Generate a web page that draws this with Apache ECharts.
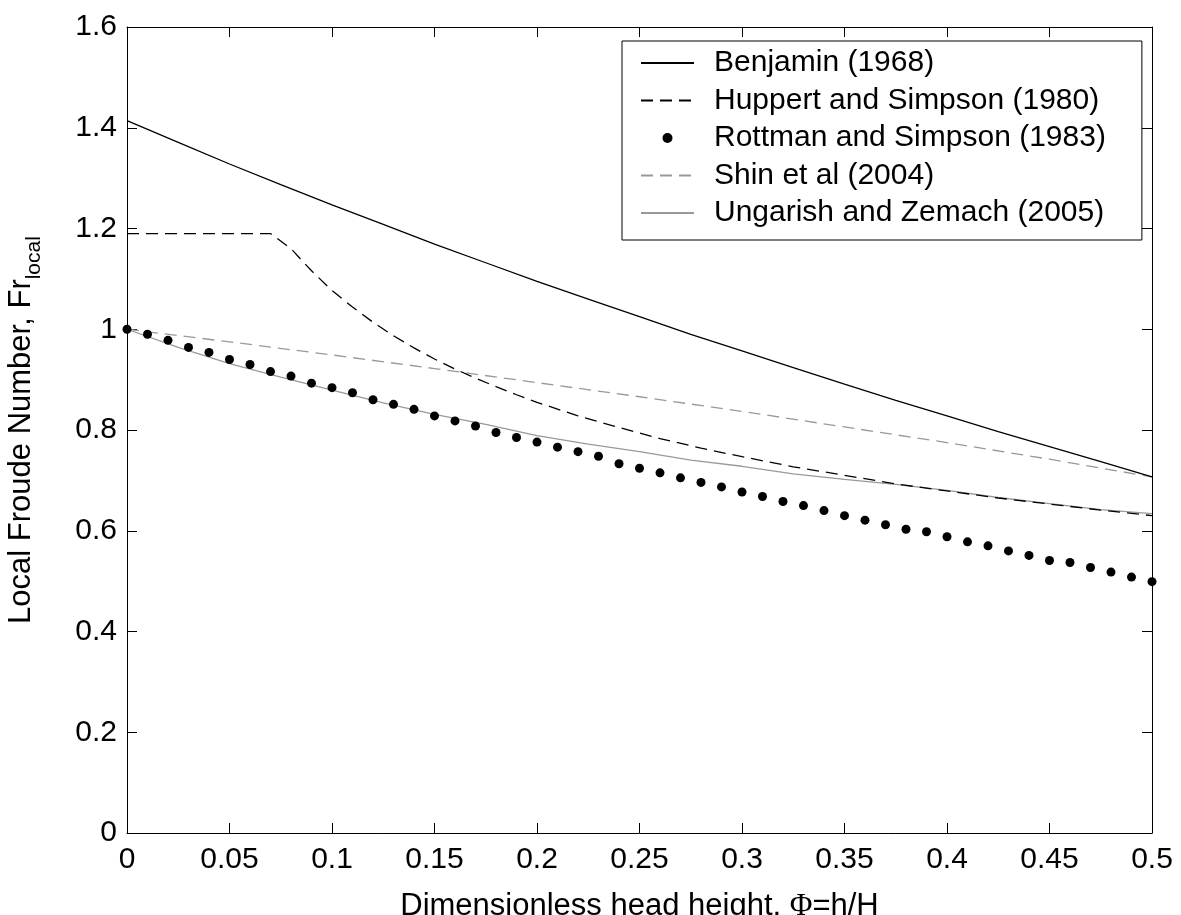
<!DOCTYPE html>
<html>
<head>
<meta charset="utf-8">
<script src="https://cdn.jsdelivr.net/npm/echarts@6/dist/echarts.min.js"></script>
<style>
html,body{margin:0;padding:0;background:#fff;}
#c{width:1181px;height:915px;}
</style>
</head>
<body>
<div id="c"></div>
<script>
// ---- data ----
const seriesNames = [
  'Benjamin (1968)',
  'Huppert and Simpson (1980)',
  'Rottman and Simpson (1983)',
  'Shin et al (2004)',
  'Ungarish and Zemach (2005)'
];
const xTicks = [0, 0.05, 0.1, 0.15, 0.2, 0.25, 0.3, 0.35, 0.4, 0.45, 0.5];
const yTicks = [0, 0.2, 0.4, 0.6, 0.8, 1, 1.2, 1.4, 1.6];

const benjaminX = [0,0.025,0.05,0.075,0.1,0.125,0.15,0.175,0.2,0.225,0.25,0.275,0.3,0.325,0.35,0.375,0.4,0.425,0.45,0.475,0.5];
const benjaminY = [1.414,1.371,1.328,1.287,1.247,1.208,1.169,1.132,1.095,1.060,1.025,0.990,0.957,0.924,0.891,0.859,0.828,0.797,0.767,0.737,0.707];

const huppertX = [0,0.07,0.08,0.09,0.10,0.11,0.12,0.13,0.14,0.15,0.16,0.17,0.18,0.19,0.20,0.22,0.24,0.26,0.28,0.30,0.325,0.35,0.375,0.40,0.425,0.45,0.475,0.50];
const huppertY = [1.19,1.19,1.160,1.116,1.077,1.044,1.014,0.987,0.963,0.941,0.921,0.903,0.886,0.870,0.855,0.828,0.805,0.783,0.764,0.747,0.727,0.710,0.693,0.679,0.665,0.653,0.641,0.630];

const rottmanX = [0,0.01,0.02,0.03,0.04,0.05,0.06,0.07,0.08,0.09,0.10,0.11,0.12,0.13,0.14,0.15,0.16,0.17,0.18,0.19,0.20,0.21,0.22,0.23,0.24,0.25,0.26,0.27,0.28,0.29,0.30,0.31,0.32,0.33,0.34,0.35,0.36,0.37,0.38,0.39,0.40,0.41,0.42,0.43,0.44,0.45,0.46,0.47,0.48,0.49,0.50];
const rottmanY = [1.0,0.99,0.978,0.964,0.954,0.94,0.93,0.916,0.907,0.893,0.884,0.874,0.86,0.851,0.841,0.828,0.818,0.808,0.795,0.785,0.776,0.766,0.757,0.748,0.733,0.724,0.715,0.705,0.696,0.687,0.677,0.668,0.658,0.65,0.64,0.63,0.621,0.612,0.603,0.598,0.588,0.578,0.57,0.56,0.551,0.541,0.537,0.527,0.518,0.508,0.499];

const shinX = [0,0.05,0.1,0.15,0.2,0.25,0.3,0.35,0.4,0.45,0.5];
const shinY = [1.0,0.975,0.949,0.922,0.894,0.866,0.837,0.806,0.775,0.742,0.707];

const ungarishX = [0,0.025,0.05,0.075,0.1,0.125,0.15,0.175,0.2,0.225,0.25,0.275,0.3,0.325,0.35,0.375,0.4,0.425,0.45,0.475,0.5];
const ungarishY = [1.0,0.964,0.932,0.905,0.879,0.854,0.831,0.811,0.789,0.772,0.757,0.740,0.728,0.713,0.702,0.692,0.680,0.666,0.654,0.642,0.634];

// ---- chart ----
const pairs = (xs, ys) => xs.map((x, i) => [x, ys[i]]);
const FONT = 'Liberation Sans, Arial, sans-serif';
const GRAY = '#999999';
const TICK_FS = 30;
const NAME_FS = 31;

const chart = echarts.init(document.getElementById('c'), null, {renderer: 'canvas'});

const axisCommon = {
  type: 'value',
  axisLine: {show: true, onZero: false, lineStyle: {color: '#000', width: 1}},
  axisTick: {show: true, inside: true, length: 10, lineStyle: {color: '#000', width: 1}},
  splitLine: {show: false}
};

const legendData = seriesNames.map((n, i) =>
  i === 2 ? {name: n, icon: 'circle', itemStyle: {opacity: 1, color: '#000'}} : {name: n});

const option = {
  backgroundColor: '#fff',
  animation: false,
  textStyle: {fontFamily: FONT},
  grid: {left: 127, right: 29, top: 27, bottom: 82, containLabel: false, outerBoundsMode: 'none'},
  legend: {
    orient: 'vertical',
    left: 622,
    top: 41,
    data: legendData,
    backgroundColor: '#fff',
    borderColor: '#000',
    borderWidth: 1,
    borderRadius: 0,
    padding: [7, 36, 12, 18],
    itemWidth: 53,
    itemHeight: 10,
    itemGap: 7.5,
    itemStyle: {opacity: 0},
    textStyle: {fontFamily: FONT, fontSize: TICK_FS, color: '#000', lineHeight: 30, padding: [0, 0, 0, 15]}
  },
  xAxis: [
    Object.assign({}, axisCommon, {
      position: 'bottom', min: 0, max: 0.5, interval: 0.05,
      axisLabel: {color: '#000', fontSize: TICK_FS, fontFamily: FONT, margin: 12,
        formatter: v => String(+v.toFixed(2))},
      name: '{a|Dimensionless head height, }{phi|Φ}{a|=h/H}',
      nameLocation: 'middle', nameGap: 58,
      nameTextStyle: {
        rich: {
          a: {fontSize: NAME_FS, fontFamily: FONT, color: '#000'},
          phi: {fontSize: NAME_FS, fontFamily: 'Liberation Serif, DejaVu Serif, serif', color: '#000'}
        }
      }
    }),
    Object.assign({}, axisCommon, {
      position: 'top', min: 0, max: 0.5, interval: 0.05,
      axisLabel: {show: false}
    })
  ],
  yAxis: [
    Object.assign({}, axisCommon, {
      position: 'left', min: 0, max: 1.6, interval: 0.2,
      axisLabel: {color: '#000', fontSize: TICK_FS, fontFamily: FONT, margin: 10,
        formatter: v => String(+v.toFixed(2))},
      name: '{a|Local Froude Number, Fr}{sub|local}',
      nameLocation: 'middle', nameRotate: 90, nameGap: 82,
      nameTextStyle: {
        rich: {
          a: {fontSize: NAME_FS, fontFamily: FONT, color: '#000', lineHeight: 31},
          sub: {fontSize: 21, fontFamily: FONT, color: '#000', lineHeight: 47, verticalAlign: 'bottom'}
        }
      }
    }),
    Object.assign({}, axisCommon, {
      position: 'right', min: 0, max: 1.6, interval: 0.2,
      axisLabel: {show: false}
    })
  ],
  series: [
    {
      name: seriesNames[0], type: 'line', xAxisIndex: 0, yAxisIndex: 0,
      data: pairs(benjaminX, benjaminY), symbol: 'none', smooth: false,
      lineStyle: {color: '#000', width: 1.3, type: 'solid'}, itemStyle: {color: '#000'}, z: 3
    },
    {
      name: seriesNames[1], type: 'line', xAxisIndex: 0, yAxisIndex: 0,
      data: pairs(huppertX, huppertY), symbol: 'none',
      lineStyle: {color: '#000', width: 1.3, type: [12, 7]}, itemStyle: {color: '#000'}, z: 3
    },
    {
      name: seriesNames[2], type: 'scatter', xAxisIndex: 0, yAxisIndex: 0,
      data: pairs(rottmanX, rottmanY), symbol: 'circle', symbolSize: 9,
      itemStyle: {color: '#000', opacity: 1}, z: 4
    },
    {
      name: seriesNames[3], type: 'line', xAxisIndex: 0, yAxisIndex: 0,
      data: pairs(shinX, shinY), symbol: 'none',
      lineStyle: {color: GRAY, width: 1.3, type: [12, 7]}, itemStyle: {color: GRAY}, z: 2
    },
    {
      name: seriesNames[4], type: 'line', xAxisIndex: 0, yAxisIndex: 0,
      data: pairs(ungarishX, ungarishY), symbol: 'none',
      lineStyle: {color: GRAY, width: 1.3, type: 'solid'}, itemStyle: {color: GRAY}, z: 2
    }
  ]
};
chart.setOption(option);
</script>
</body>
</html>
